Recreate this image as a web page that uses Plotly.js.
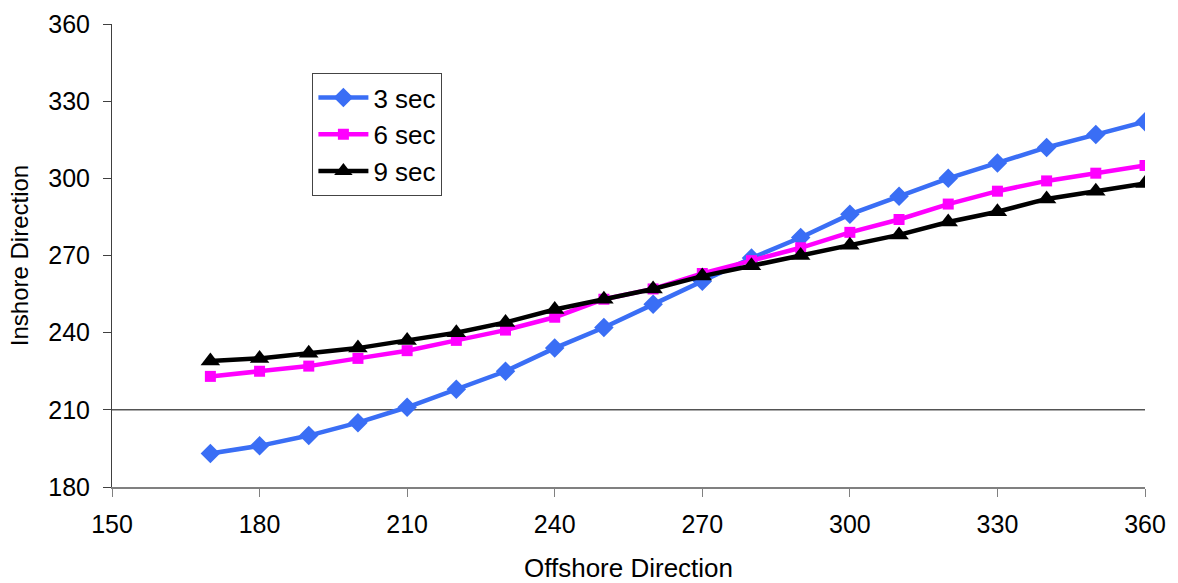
<!DOCTYPE html>
<html>
<head>
<meta charset="utf-8">
<script src="https://cdn.plot.ly/plotly-3.0.1.min.js"></script>
<style>html,body{margin:0;padding:0;background:#fff;}#chart{width:1178px;height:583px;}</style>
</head>
<body>
<div id="chart"></div>
<script>
const offshore = [170,180,190,200,210,220,230,240,250,260,270,280,290,300,310,320,330,340,350,360];
const sec3 = [193,196,200,205,211,218,225,234,242,251,260,269,277,286,293,300,306,312,317,322];
const sec6 = [223,225,227,230,233,237,241,246,253,257,263,268,273,279,284,290,295,299,302,305];
const sec9 = [229,230,232,234,237,240,244,249,253,257,262,266,270,274,278,283,287,292,295,298];
const seriesNames = ['3 sec','6 sec','9 sec'];
const xTicks = [150,180,210,240,270,300,330,360];
const yTicks = [180,210,240,270,300,330,360];
const refLineY = 210;

const traces = [
  {x: offshore, y: sec3, name: seriesNames[0], mode: 'lines+markers',
   line: {color: '#3A6EF5', width: 4.5}, marker: {symbol: 'diamond', size: 15, color: '#3A6EF5'}},
  {x: offshore, y: sec6, name: seriesNames[1], mode: 'lines+markers',
   line: {color: '#FF00FF', width: 4.5}, marker: {symbol: 'square', size: 11, color: '#FF00FF'}},
  {x: offshore, y: sec9, name: seriesNames[2], mode: 'lines+markers',
   line: {color: '#000000', width: 4.5}, marker: {symbol: 'triangle-up', size: 17, color: '#000000'}}
];
traces.forEach(t => t.cliponaxis = true);

const font = 'Liberation Sans, Arial, sans-serif';
const layout = {
  width: 1178, height: 583,
  margin: {l: 112, r: 33, t: 24, b: 96},
  paper_bgcolor: '#fff', plot_bgcolor: '#fff',
  font: {family: font, color: '#000', size: 25},
  showlegend: true,
  legend: {x: 0.194, y: 0.894, xanchor: 'left', yanchor: 'top',
           bgcolor: '#fff', bordercolor: '#444', borderwidth: 1, itemwidth: 50,
           font: {family: font, size: 26, color: '#000'}, tracegroupgap: 0},
  xaxis: {range: [150, 360], tickmode: 'array', tickvals: xTicks, ticktext: xTicks.map(String),
          showgrid: false, zeroline: false, showline: true, linecolor: '#808080', linewidth: 2,
          ticks: 'outside', ticklen: 8, tickcolor: '#808080', tickwidth: 1, ticklabelstandoff: 6,
          tickfont: {family: font, size: 25},
          title: {text: 'Offshore Direction', font: {family: font, size: 26}, standoff: 22}},
  yaxis: {range: [180, 360], tickmode: 'array', tickvals: yTicks, ticktext: yTicks.map(String),
          showgrid: false, zeroline: false, showline: true, linecolor: '#404040', linewidth: 1,
          ticks: 'outside', ticklen: 8, tickcolor: '#404040', tickwidth: 1, ticklabelstandoff: 8,
          tickfont: {family: font, size: 25},
          title: {text: 'Inshore Direction', font: {family: font, size: 24}, standoff: 12}},
  shapes: [{type: 'line', xref: 'paper', yref: 'y', x0: 0, x1: 1, y0: refLineY, y1: refLineY,
            line: {color: '#000', width: 1}, layer: 'below'}]
};
Plotly.newPlot('chart', traces, layout, {staticPlot: true});
</script>
</body>
</html>
